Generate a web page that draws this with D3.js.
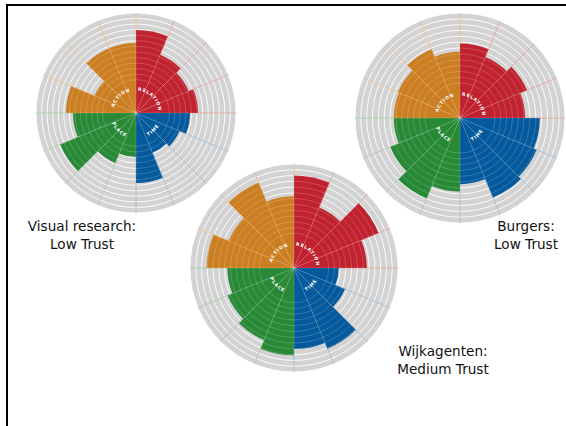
<!DOCTYPE html>
<html lang="en">
<head>
<meta charset="UTF-8">
<script src="https://d3js.org/d3.v7.min.js"></script>
<style>
  body { margin: 0; background: #fff; }
  svg { display: block; }
</style>
</head>
<body>
<svg id="chart" width="566" height="426"></svg>
<script>
// quadrants clockwise from 12 o'clock, 4 sectors each
var quadrants = ["RELATION", "TIME", "PLACE", "ACTION"];
var quadColors = ["#c1222f", "#045a9c", "#288a37", "#cc7f22"];
var paleColors = ["#eaa39c", "#9dbfdc", "#a6d0a4", "#efc48c"];

// sector length as share of the full radius
var visualResearch = [0.83, 0.63, 0.57, 0.62,  0.54, 0.47, 0.43, 0.70,  0.44, 0.54, 0.82, 0.63,  0.70, 0.45, 0.70, 0.70];
var burgers        = [0.71, 0.63, 0.69, 0.62,  0.76, 0.79, 0.82, 0.63,  0.70, 0.83, 0.72, 0.63,  0.63, 0.64, 0.71, 0.63];
var wijkagenten    = [0.89, 0.63, 0.88, 0.70,  0.43, 0.53, 0.84, 0.78,  0.84, 0.75, 0.69, 0.64,  0.84, 0.68, 0.89, 0.69];

var chartLabels = [["Visual research:", "Low Trust"], ["Burgers:", "Low Trust"], ["Wijkagenten:", "Medium Trust"]];
var ringCount = 18;

var svg = d3.select("#chart");

// frame
svg.append("line").attr("x1", 6).attr("x2", 566).attr("y1", 5).attr("y2", 5)
    .attr("stroke", "#000").attr("stroke-width", 2);
svg.append("line").attr("x1", 7).attr("x2", 7).attr("y1", 4).attr("y2", 426)
    .attr("stroke", "#000").attr("stroke-width", 2);

function drawRose(cx, cy, R, values) {
    var g = svg.append("g").attr("transform", "translate(" + cx + "," + cy + ")");
    var rs = d3.scaleLinear().domain([0, 1]).range([0, R]);
    var step = Math.PI / 8;
    var rings = d3.range(6, ringCount + 1).map(function(k) { return k / ringCount; });
    var spokeQuad = function(i) { return Math.floor(((i + 15) % 16) / 4); };

    g.append("circle").attr("r", R).attr("fill", "#d3d3d3");

    g.selectAll(".ring").data(rings).enter().append("circle")
        .attr("r", function(d) { return rs(d); })
        .attr("fill", "none").attr("stroke", "#fff").attr("stroke-width", 0.9);

    g.selectAll(".spoke").data(d3.range(16)).enter().append("line")
        .attr("x1", 0).attr("y1", 0)
        .attr("x2", function(i) { return R * Math.sin(i * step); })
        .attr("y2", function(i) { return -R * Math.cos(i * step); })
        .attr("stroke", function(i) { return paleColors[spokeQuad(i)]; })
        .attr("stroke-width", 0.8);

    var arc = d3.arc().innerRadius(0);
    g.selectAll(".wedge").data(values).enter().append("path")
        .attr("d", function(d, i) {
            return arc({outerRadius: rs(d), startAngle: i * step, endAngle: (i + 1) * step});
        })
        .attr("fill", function(d, i) { return quadColors[Math.floor(i / 4)]; });

    // faint grid over the coloured wedges
    var clipId = "clip" + Math.round(cx);
    g.append("clipPath").attr("id", clipId).selectAll("path").data(values).enter().append("path")
        .attr("d", function(d, i) {
            return arc({outerRadius: rs(d), startAngle: i * step, endAngle: (i + 1) * step});
        });
    var grid = g.append("g").attr("clip-path", "url(#" + clipId + ")");
    grid.selectAll("circle").data(rings).enter().append("circle")
        .attr("r", function(d) { return rs(d); })
        .attr("fill", "none").attr("stroke", "#fff").attr("stroke-opacity", 0.2).attr("stroke-width", 0.9);
    grid.selectAll("line").data(d3.range(16)).enter().append("line")
        .attr("x1", 0).attr("y1", 0)
        .attr("x2", function(i) { return R * Math.sin(i * step); })
        .attr("y2", function(i) { return -R * Math.cos(i * step); })
        .attr("stroke", "#fff").attr("stroke-opacity", 0.2).attr("stroke-width", 0.8);

    // quadrant names bent round the centre
    quadrants.forEach(function(name, q) {
        var p = d3.path();
        var a0 = q * Math.PI / 2 - Math.PI / 2;
        if (q == 0 || q == 3) {
            p.arc(0, 0, 22.5, a0, a0 + Math.PI / 2, false);
        } else {
            p.arc(0, 0, 26, a0 + Math.PI / 2, a0, true);
        }
        var id = "lab" + Math.round(cx) + q;
        g.append("path").attr("id", id).attr("d", p.toString()).attr("fill", "none");
        g.append("text")
            .attr("font-family", "DejaVu Sans, sans-serif")
            .attr("font-size", 4.5).attr("font-weight", "bold")
            .attr("letter-spacing", 0.8).attr("fill", "#fff")
            .append("textPath").attr("href", "#" + id)
            .attr("startOffset", "50%").attr("text-anchor", "middle")
            .text(name);
    });
}

drawRose(136, 113, 100, visualResearch);
drawRose(460, 118, 105, burgers);
drawRose(294, 268, 104, wijkagenten);

var labelPos = [[82, 231], [526, 231], [443, 356]];
chartLabels.forEach(function(lines, i) {
    var t = svg.append("text")
        .attr("font-family", "DejaVu Sans, sans-serif")
        .attr("font-size", 13.6).attr("fill", "#111")
        .attr("text-anchor", "middle");
    lines.forEach(function(s, j) {
        t.append("tspan").attr("x", labelPos[i][0]).attr("y", labelPos[i][1] + j * 18).text(s);
    });
});
</script>
</body>
</html>
